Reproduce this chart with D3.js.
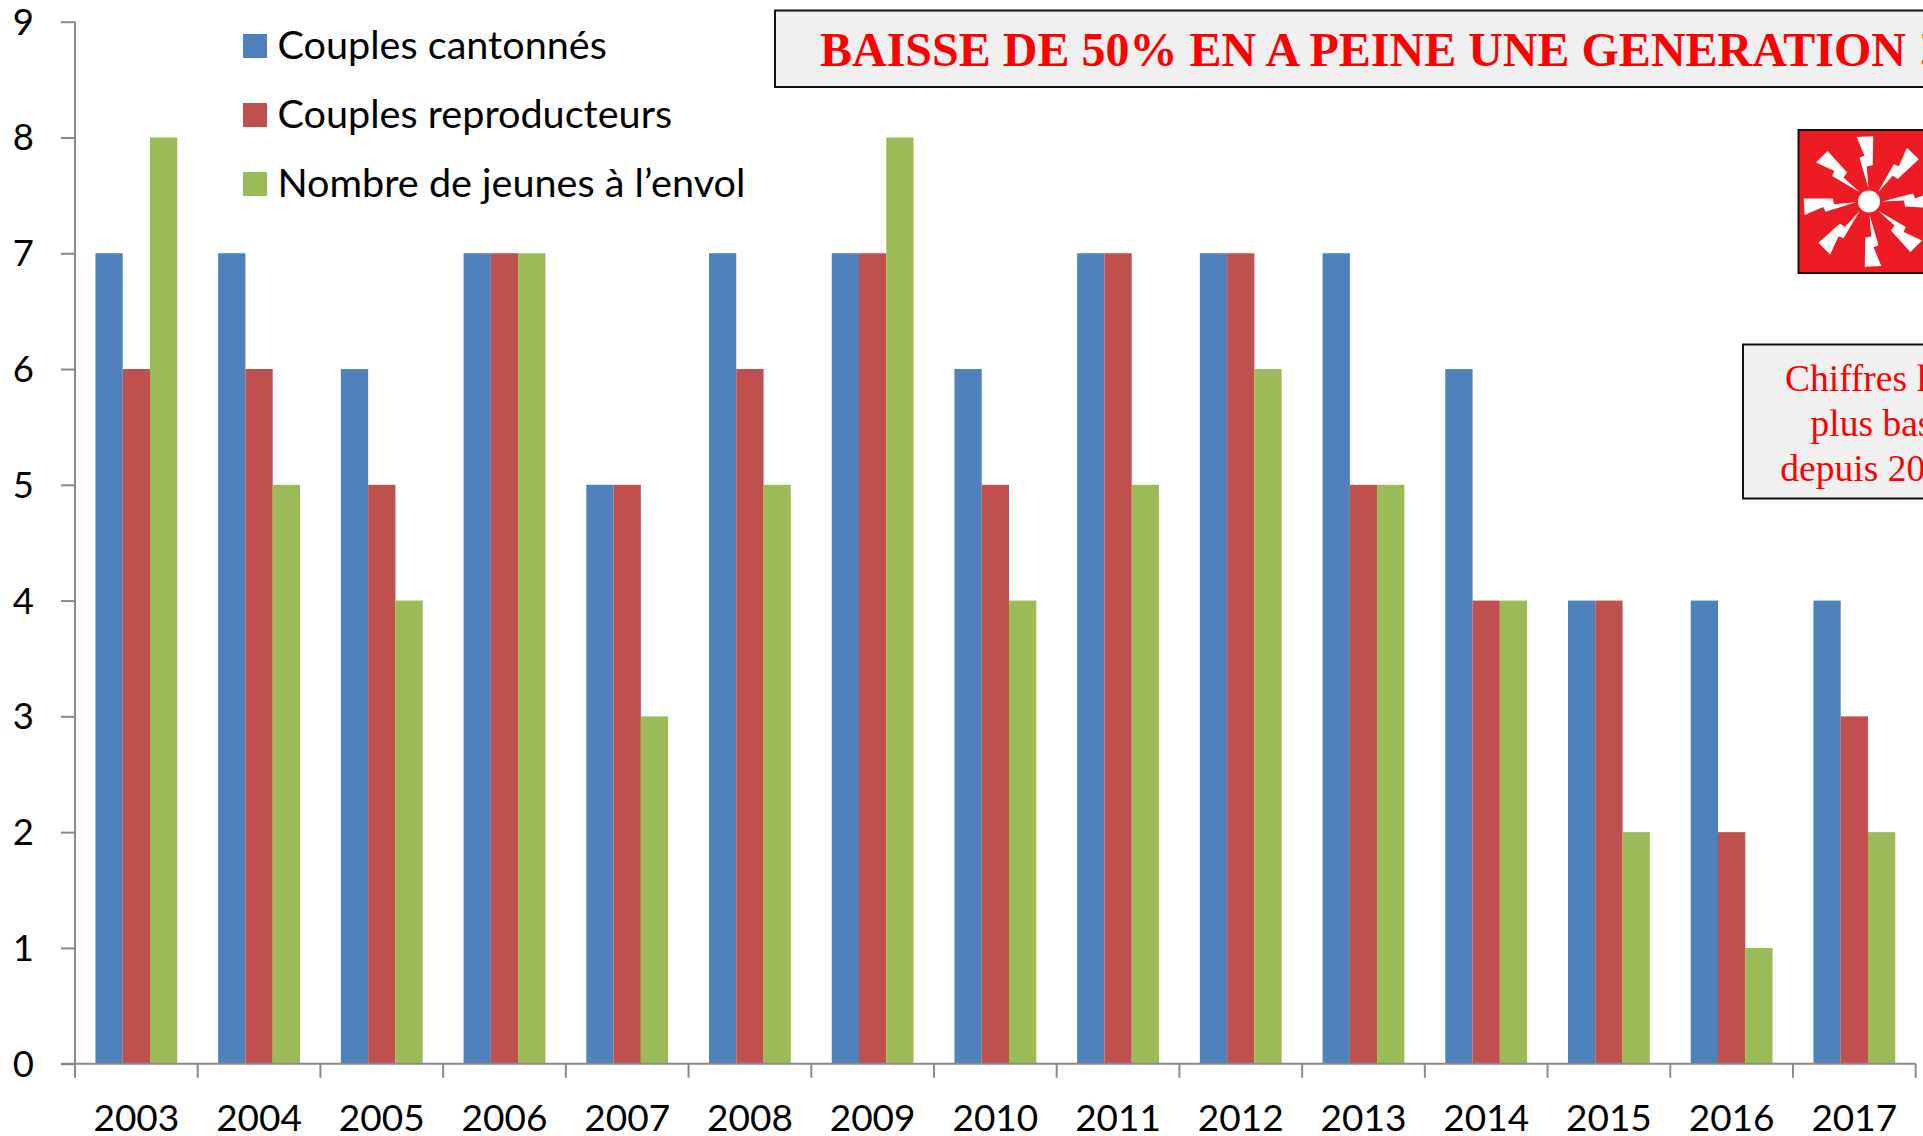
<!DOCTYPE html>
<html lang="fr">
<head>
<meta charset="utf-8">
<title>Couples et jeunes à l'envol</title>
<script src="https://cdn.jsdelivr.net/npm/d3@7"></script>
<style>
html,body{margin:0;padding:0;background:#fff;overflow:hidden}
svg{display:block}
.sans{font-family:Lato,"Open Sans",sans-serif;fill:#000}
.serif{font-family:"Liberation Serif","Times New Roman",serif;fill:#f00}
</style>
</head>
<body>
<svg id="c" width="1923" height="1136"></svg>
<script>
const years = ["2003","2004","2005","2006","2007","2008","2009","2010","2011","2012","2013","2014","2015","2016","2017"];
const couplesCantonnes = [7,7,6,7,5,7,7,6,7,7,7,6,4,4,4];
const couplesReproducteurs = [6,6,5,7,5,6,7,5,7,7,5,4,4,2,3];
const jeunesEnvol = [8,5,4,7,3,5,8,4,5,6,5,4,2,1,2];
const seriesNames = ["Couples cantonnés","Couples reproducteurs","Nombre de jeunes à l’envol"];
const seriesColors = ["#4F81BD","#C0504D","#9BBB59"];
const yTicks = [0,1,2,3,4,5,6,7,8,9];
const titleText = "BAISSE DE 50% EN A PEINE UNE GENERATION !";
const noteLines = ["Chiffres les","plus bas","depuis 2003"];

const svg = d3.select("#c");
const x0 = 75, x1 = 1915.7, yBase = 1063.7, yTop = 21.7;
const axisColor = "#8a8a8a";

const x = d3.scaleBand().domain(years).range([x0,x1]).paddingInner(1/3).paddingOuter(1/6);
const xStep = x.step();
const xs = d3.scaleBand().domain(d3.range(3)).range([0,x.bandwidth()]);
const y = d3.scaleLinear().domain([0,9]).range([yBase,yTop]);

const allSeries = [couplesCantonnes,couplesReproducteurs,jeunesEnvol];
allSeries.forEach((vals,i)=>{
  svg.append("g").selectAll("rect").data(vals).join("rect")
    .attr("x",(d,j)=>x(years[j])+xs(i))
    .attr("width",xs.bandwidth())
    .attr("y",d=>y(d))
    .attr("height",d=>y(0)-y(d))
    .attr("fill",seriesColors[i]);
});

// Y axis
const yAxis = d3.axisLeft(y).tickValues(yTicks).tickSize(14).tickPadding(0).tickFormat(d3.format("d"));
const gy = svg.append("g").attr("transform",`translate(${x0},0)`).call(yAxis);
gy.select(".domain").attr("stroke",axisColor).attr("stroke-width",2).attr("d",`M0,${yTop}V${yBase}`);
gy.selectAll(".tick line").attr("stroke",axisColor).attr("stroke-width",2);
gy.selectAll(".tick text").attr("class","sans").attr("font-family",null)
  .attr("x",-41).attr("dy",null).attr("y",12.5).attr("font-size",36.5).attr("text-anchor","end");

// X axis: ticks between categories
const xBoundaries = d3.range(years.length+1).map(i=>x0+i*xStep);
const gx = svg.append("g");
gx.append("line").attr("x1",x0-14).attr("x2",x1).attr("y1",yBase).attr("y2",yBase)
  .attr("stroke",axisColor).attr("stroke-width",2);
gx.selectAll("line.t").data(xBoundaries).join("line").attr("class","t")
  .attr("x1",d=>d).attr("x2",d=>d).attr("y1",yBase).attr("y2",yBase+14)
  .attr("stroke",axisColor).attr("stroke-width",2);
gx.selectAll("text").data(years).join("text").attr("class","sans")
  .attr("x",d=>x(d)+x.bandwidth()/2).attr("y",1131)
  .attr("text-anchor","middle").attr("font-size",37).text(d=>d);

// Legend
const legY = [34,103,172];
seriesNames.forEach((n,i)=>{
  svg.append("rect").attr("x",243).attr("y",legY[i]).attr("width",24).attr("height",24).attr("fill",seriesColors[i]);
  svg.append("text").attr("class","sans").attr("x",277.5).attr("y",legY[i]+24.5)
    .attr("font-size",39.6).text(n);
});

// Title box
svg.append("rect").attr("x",775).attr("y",10.5).attr("width",1200).attr("height",76.5)
  .attr("fill","#f0f0f0").attr("stroke","#111").attr("stroke-width",2);
svg.append("text").attr("class","serif").attr("x",820).attr("y",66)
  .attr("font-size",48).attr("font-weight","bold").text(titleText);

// Icon
const icon = svg.append("g");
icon.append("rect").attr("x",1798.5).attr("y",130).attr("width",200).attr("height",143)
  .attr("fill","#ED1C24").attr("stroke","#111").attr("stroke-width",2);
const cx = 1869, cy = 201.5;
const bolt = [[0,-13],[-8,-44],[-3,-46],[-10,-65],[6.5,-65],[5,-36],[-1,-35]];
const boltAngles = [-2,44,90,135,178,225,267,315];
boltAngles.forEach(a=>{
  icon.append("path").attr("d",d3.line()(bolt)+"Z")
    .attr("transform",`translate(${cx},${cy}) rotate(${a})`).attr("fill","#fff");
});
icon.append("circle").attr("cx",cx).attr("cy",cy).attr("r",11).attr("fill","#fff");

// Note box
svg.append("rect").attr("x",1743).attr("y",344.5).attr("width",300).attr("height",154)
  .attr("fill","#f0f0f0").attr("stroke","#111").attr("stroke-width",2);
const noteY = [390.5,435.5,480.5];
noteLines.forEach((t,i)=>{
  svg.append("text").attr("class","serif").attr("x",1871.5).attr("y",noteY[i])
    .attr("text-anchor","middle").attr("font-size",37.5).text(t);
});
</script>
</body>
</html>
